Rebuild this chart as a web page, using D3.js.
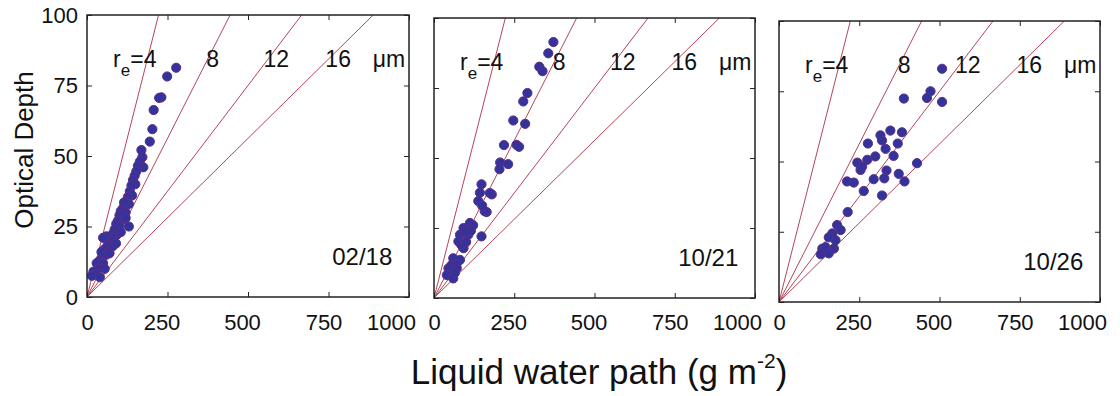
<!DOCTYPE html>
<html>
<head>
<meta charset="utf-8">
<script src="https://cdn.jsdelivr.net/npm/d3@7"></script>
<style>
  body { margin: 0; background: #fff; }
  svg text { font-family: Arial, "Liberation Sans", sans-serif; fill: #111; }
</style>
</head>
<body>
<svg id="chart" width="1120" height="396"></svg>
<script>
// dates of the three panels
const dates = ['02/18', '10/21', '10/26'];
// effective radii of the reference lines (um)
const radii = [4, 8, 12, 16];
const radiusLabels = ['=4', '8', '12', '16', 'μm'];
const xTicks = [0, 250, 500, 750, 1000];
const yTicks = [0, 25, 50, 75, 100];

// liquid water path (g m-2) and optical depth
const lwp0218 = [277, 249, 231, 224, 207, 203, 195, 169, 172, 164, 175, 158, 153, 148, 143, 150, 138, 133, 140, 127,
  122, 130, 115, 112, 120, 105, 101, 110, 96, 91, 100, 86, 81, 92, 76, 70, 60, 50, 65, 55,
  45, 60, 70, 40, 30, 50, 35, 20, 25, 15, 40, 55, 80, 90, 120, 130, 105];
const tau0218 = [81.3, 78.2, 70.8, 70.6, 66.3, 59.5, 55.1, 52.1, 49.6, 48, 46, 46.5, 44.5, 43, 41.5, 40, 39.5, 37.5, 36, 35.5,
  34, 33, 33.5, 31.5, 30, 30.5, 29, 27.5, 27, 26, 25, 24, 22.5, 22, 21, 20, 21.5, 21, 18.5, 17,
  16, 15, 15.5, 13, 12, 12, 10, 9, 8, 7.5, 7, 10, 18, 19, 28, 25, 23];

const lwp1021 = [372, 356, 328, 338, 291, 278, 247, 284, 218, 257, 265, 206, 231, 204, 148, 143, 180, 174, 138, 164,
  158, 150, 112, 122, 92, 81, 107, 148, 95, 76, 92, 85, 60, 81, 55, 70, 45, 71, 40, 60,
  65, 100, 115];
const tau1021 = [91.4, 87.4, 82.6, 81, 73.2, 70.2, 63.4, 62.2, 54.6, 54.7, 54, 48.4, 47.8, 46, 40.6, 37.6, 37, 37.5, 34.6, 30.7,
  31, 33, 26.8, 26, 25, 22.6, 22.6, 22, 23.5, 20.2, 17.8, 19, 14.2, 13.6, 11.8, 12, 10.6, 10.6, 8.2, 7,
  9, 20, 24];

const lwp1026 = [508, 389, 472, 461, 508, 347, 316, 383, 321, 277, 370, 332, 300, 275, 357, 244, 259, 254, 430, 335,
  373, 212, 233, 295, 328, 391, 264, 321, 214, 181, 192, 166, 176, 155, 135, 171, 145, 130, 155];
const tau1026 = [83, 72.4, 75, 72.6, 71.2, 61, 59.3, 60.4, 57.5, 56.4, 56.4, 54.5, 51.8, 50.6, 52, 49.6, 48.2, 47, 49.4, 46.8,
  45.6, 42.9, 42.5, 43.7, 44, 42.9, 39.5, 37.9, 32, 27.4, 25.6, 24.4, 22, 23, 19, 19, 19.5, 17, 17.3];

const series = [
  {lwp: lwp0218, tau: tau0218},
  {lwp: lwp1021, tau: tau1021},
  {lwp: lwp1026, tau: tau1026}
];

// panel frames (slightly skewed like the scan)
const frames = [
  {x: 87, y: 15, w: 322, h: 282},
  {x: 434, y: 18, w: 321, h: 280},
  {x: 779, y: 21, w: 321, h: 281}
];
// the scanned tick labels sit a bit left of their ticks
const labelShift = [0, -6, -6, -5, -18];

const svg = d3.select('#chart');
const lineColor = '#b4455a';

frames.forEach((f, i) => {
  const g = svg.append('g').attr('transform', 'translate(' + f.x + ',' + f.y + ')');

  const x = d3.scaleLinear().domain([0, 1000]).range([0, f.w]);
  const y = d3.scaleLinear().domain([0, 100]).range([f.h, 0]);

  g.append('clipPath').attr('id', 'clip' + i)
    .append('rect').attr('width', f.w).attr('height', f.h);

  // reference lines tau = 9 LWP / (5 re)
  g.append('g').attr('clip-path', 'url(#clip' + i + ')')
    .selectAll('line')
    .data(radii)
    .enter()
    .append('line')
    .attr('x1', x(0)).attr('y1', y(0))
    .attr('x2', d => x(100 * 5 * d / 9))
    .attr('y2', y(100))
    .attr('stroke', lineColor)
    .attr('stroke-width', 1);

  // dots
  const pts = series[i].lwp.map((v, k) => ({lwp: v, tau: series[i].tau[k]}));
  g.append('g').attr('clip-path', 'url(#clip' + i + ')')
    .selectAll('circle')
    .data(pts)
    .enter()
    .append('circle')
    .attr('cx', d => x(d.lwp))
    .attr('cy', d => y(d.tau))
    .attr('r', 4.6)
    .attr('fill', '#34339c')
    .attr('stroke', '#5b2e88')
    .attr('stroke-width', 1);

  // axes, ticks pointing inward
  const bottom = g.append('g').attr('transform', 'translate(0,' + f.h + ')')
    .call(d3.axisBottom(x).tickValues(xTicks).tickSize(-5)
      .tickPadding(330 - (f.y + f.h) - 16)
      .tickFormat(d3.format('d')));
  g.append('g')
    .call(d3.axisTop(x).tickValues(xTicks).tickSize(-5).tickFormat(''));
  const left = g.append('g')
    .call(d3.axisLeft(y).tickValues(yTicks).tickSize(-5).tickPadding(9)
      .tickFormat(i === 0 ? d3.format('d') : ''));
  g.append('g').attr('transform', 'translate(' + f.w + ',0)')
    .call(d3.axisRight(y).tickValues(yTicks).tickSize(-5).tickFormat(''));

  g.selectAll('.domain').remove();
  g.selectAll('.tick line').attr('stroke', '#222').attr('stroke-width', 1);
  bottom.selectAll('text')
    .attr('font-size', 22).attr('fill', '#111')
    .attr('dx', (d, k) => labelShift[k]);
  left.selectAll('text').attr('font-size', 22).attr('fill', '#111');

  g.append('rect')
    .attr('width', f.w).attr('height', f.h)
    .attr('fill', 'none')
    .attr('stroke', '#222')
    .attr('stroke-width', 1.5);

  // radius annotations
  const ty = y(81.5);
  const re = g.append('text').attr('x', x(81)).attr('y', ty).attr('font-size', 23);
  re.append('tspan').text('r');
  re.append('tspan').text('e').attr('font-size', 17).attr('dy', 9);
  re.append('tspan').text(radiusLabels[0]).attr('dy', -9);
  [390, 588, 780, 938].forEach((v, k) => {
    g.append('text')
      .attr('x', x(v)).attr('y', ty)
      .attr('text-anchor', 'middle')
      .attr('font-size', 23)
      .text(radiusLabels[k + 1]);
  });

  // date label
  g.append('text')
    .attr('x', x(948)).attr('y', y(11.5))
    .attr('text-anchor', 'end')
    .attr('font-size', 24)
    .text(dates[i]);
});

// axis titles
svg.append('text')
  .attr('transform', 'translate(33,150) rotate(-90)')
  .attr('text-anchor', 'middle')
  .attr('font-size', 26)
  .text('Optical Depth');

const xt = svg.append('text')
  .attr('x', 599).attr('y', 384)
  .attr('text-anchor', 'middle')
  .attr('font-size', 35);
xt.append('tspan').text('Liquid water path (g m');
xt.append('tspan').text('-2').attr('font-size', 21).attr('dy', -16);
xt.append('tspan').text(')').attr('dy', 16);
</script>
</body>
</html>
